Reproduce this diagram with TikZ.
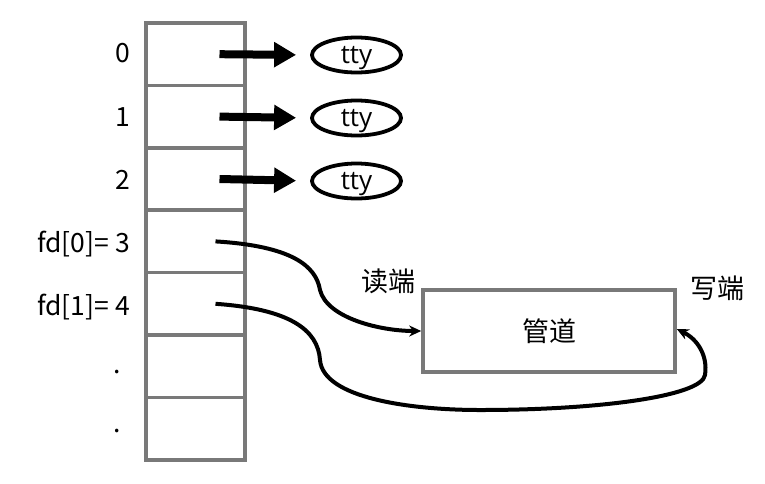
\documentclass[tikz,border=0pt]{standalone}
\usepackage{fontspec}
\setmainfont{Open Sans}
\newfontfamily\cjk{Noto Sans CJK SC}
\usetikzlibrary{arrows.meta,shapes.geometric,calc}
\begin{document}
\begin{tikzpicture}[x=1pt,y=-1pt,
  cell/.style={draw=gray!95!black,line width=3.6pt,minimum width=99pt,minimum height=62.4pt,inner sep=0pt},
  lbl/.style={font=\cjk\fontsize{26.5}{30}\selectfont,anchor=east,inner sep=0pt},
  tty/.style={draw,ellipse,line width=3.8pt,minimum width=89pt,minimum height=35pt,inner sep=0pt},
  ttytext/.style={font=\fontsize{26}{30}\selectfont,inner sep=0pt},
  bigarrow/.style={line width=8pt,-{Triangle[length=22pt,width=24pt]}},
  pipeline/.style={line width=4pt,-{Stealth[length=12pt,width=11pt]}},
  cn/.style={font=\cjk\fontsize{27}{30}\selectfont,inner sep=0pt}]
\useasboundingbox (0,0) rectangle (765,483);
\foreach \i in {0,...,6}{
  \node[cell] (c\i) at (195.5,{54.2+62.4*\i}) {};
}
\node[lbl] (l0) at (130,53) {0};
\node[lbl] (l1) at (130,117) {1};
\node[lbl] (l2) at (130,180) {2};
\node[lbl] (l3) at (130,244) {fd[0]= 3};
\node[lbl] (l4) at (130,307) {fd[1]= 4};
\node[lbl] (l5) at (121,372) {.};
\node[lbl] (l6) at (121,431) {.};
\foreach \i/\y in {0/55,1/118,2/181}{
  \node[tty] (e\i) at (356.5,\y) {};
  \node[ttytext] (t\i) at (356.5,\y+3.5) {tty};
  \draw[bigarrow,shorten >=14pt] ([xshift=24pt]c\i.center) -- (e\i.west);
}
\node[draw=gray!95!black,line width=3.6pt,minimum width=252pt,minimum height=82pt,inner sep=0pt] (pipe) at (549,331) {};
\node[cn] (pt) at (pipe.center) {管道};
\node[cn] (rd) at (388,281) {读端};
\node[cn] (wr) at (717,288) {写端};
\coordinate (s3) at ([xshift=20pt]c3.center);
\coordinate (s4) at ([xshift=20pt]c4.center);
\draw[pipeline] (s3) .. controls (292,246) and (316,266) .. (320,290)
  .. controls (327,318) and (380,331) .. (pipe.west);
\draw[pipeline] (s4) .. controls (290,309) and (318,330) .. (320,360)
  .. controls (323,398) and (410,410) .. (480,410)
  .. controls (600,410) and (702,396) .. (705,375)
  .. controls (708,355) and (697,339) .. ([yshift=2pt]pipe.east);
\end{tikzpicture}
\end{document}
